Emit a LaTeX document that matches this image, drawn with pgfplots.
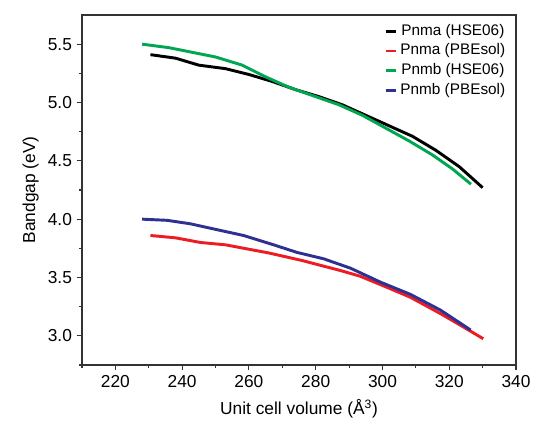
\documentclass[border=0pt]{standalone}
\usepackage{fontspec}
\setmainfont{Liberation Sans}
\usepackage{pgfplots}
\pgfplotsset{compat=1.18}
\definecolor{cblack}{HTML}{000000}
\definecolor{cred}{HTML}{ED1C24}
\definecolor{cgreen}{HTML}{00A651}
\definecolor{cblue}{HTML}{2E3192}
\definecolor{frame}{HTML}{333333}
\begin{document}
\begin{tikzpicture}
\begin{axis}[
  width=325.5pt, height=262.5pt, scale only axis,
  xmin=210, xmax=340, ymin=2.75, ymax=5.75,
  xtick={220,240,...,340}, minor xtick={210,230,...,330},
  ytick={3.0,3.5,...,5.5}, minor ytick={2.75,3.25,...,5.25},
  xtick pos=bottom, ytick pos=left, tick align=outside,
  major tick length=4pt, minor tick length=2.5pt,
  every tick/.style={line width=0.8pt, frame},
  axis line style={line width=1.3pt, frame},
  axis background/.style={draw=frame, line width=1.3pt},
  font=\fontsize{13pt}{15pt}\selectfont,
  /pgf/number format/assume math mode=true,
  yticklabel style={/pgf/number format/.cd, fixed, fixed zerofill, precision=1},
  xticklabel style={/pgf/number format/.cd, 1000 sep={}},
  xlabel={Unit cell volume (Å\textsuperscript{3})},
  ylabel={Bandgap (eV)},
  xlabel style={yshift=-2pt},
  legend style={at={(0.982,0.981)}, anchor=north east, draw=none, fill=none,
    inner sep=0pt, font=\fontsize{11.5pt}{13pt}\selectfont, row sep=0.8pt,
    nodes={inner xsep=2pt, inner ysep=1pt, text height=9pt, text depth=3pt}},
  legend image code/.code={\draw[#1, line width=2.2pt] (0pt,0pt) -- (8pt,0pt);},
  every axis plot/.append style={line width=2.2pt},
]
\addplot[cblack] coordinates {
(230.5,5.41)(238,5.38)(245,5.32)(253,5.29)(260,5.24)(267,5.18)(274,5.11)
(281,5.05)(288,4.98)(295,4.89)(302,4.80)(309,4.71)(316,4.59)(323,4.45)(330,4.27)};
\addplot[cred] coordinates {
(230.5,3.86)(238,3.84)(245.5,3.80)(253,3.78)(260.4,3.74)(266,3.71)(271.4,3.675)
(276,3.645)(282,3.60)(287.4,3.56)(293.4,3.51)(301,3.42)(308.4,3.33)(317.4,3.19)(324,3.08)(330.2,2.975)};
\addplot[cgreen] coordinates {
(228,5.50)(236,5.47)(243,5.43)(250,5.39)(258,5.32)(265,5.22)(272,5.13)
(279,5.06)(287,4.98)(294,4.89)(301,4.78)(308,4.67)(315,4.55)(321,4.43)(326.5,4.30)};
\addplot[cblue] coordinates {
(228,4.00)(235.5,3.99)(242.5,3.96)(250.4,3.91)(258.4,3.86)(267.4,3.78)(274.4,3.715)
(282.4,3.66)(290.4,3.58)(299.4,3.46)(308.4,3.355)(317.4,3.22)(326.4,3.05)};
\legend{Pnma (HSE06), Pnma (PBEsol), Pnmb (HSE06), Pnmb (PBEsol)}
\end{axis}
\draw[line width=1.3pt, frame] (current axis.south east) -- (current axis.north east) -- (current axis.north west);
\pgfresetboundingbox
\path (current axis.south west) +(-61.5pt,-46.5pt) (current axis.north east) +(12.75pt,11.25pt);
\end{tikzpicture}
\end{document}
